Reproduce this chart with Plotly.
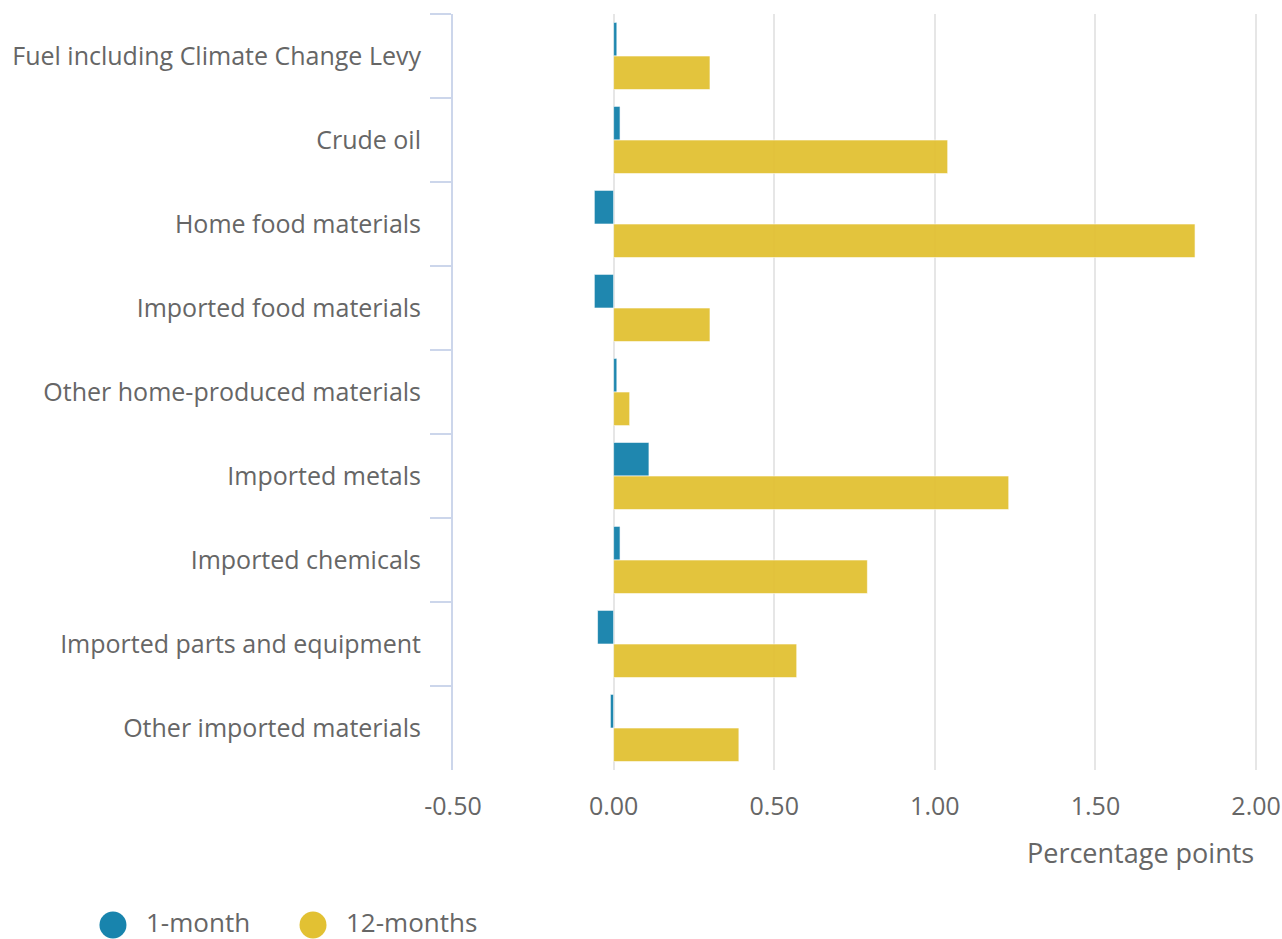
import plotly.graph_objects as go

categories = [
    "Fuel including Climate Change Levy",
    "Crude oil",
    "Home food materials",
    "Imported food materials",
    "Other home-produced materials",
    "Imported metals",
    "Imported chemicals",
    "Imported parts and equipment",
    "Other imported materials",
]
series_names = ["1-month", "12-months"]
one_month = [0.01, 0.02, -0.06, -0.06, 0.01, 0.11, 0.02, -0.05, -0.01]
twelve_months = [0.30, 1.04, 1.81, 0.30, 0.05, 1.23, 0.79, 0.57, 0.39]
x_ticks = [-0.5, 0, 0.5, 1.0, 1.5, 2.0]
x_tick_labels = ["-0.50", "0.00", "0.50", "1.00", "1.50", "2.00"]

BLUE = "#1884ad"
YELLOW = "#e2c133"
TXT = "#666666"
FONT = "Open Sans"
colors = [BLUE, YELLOW]

fig = go.Figure()
for name, vals, col, op in zip(series_names, [one_month, twelve_months], colors, [0.97, 0.95]):
    fig.add_trace(go.Bar(y=categories, x=vals, orientation="h", name=name,
                         marker=dict(color=col, line=dict(color="rgba(255,255,255,0.6)", width=1)),
                         opacity=op, showlegend=False))

# manual legend with large circle symbols (below the plot, left)
legend_x_circle = [-0.4224, -0.1739]
legend_x_text = [-0.3826, -0.1342]
legend_y = -0.2050
shapes = []
annotations = []
for name, col, xc, xt in zip(series_names, colors, legend_x_circle, legend_x_text):
    shapes.append(dict(type="circle", xref="paper", yref="paper",
                       xsizemode="pixel", ysizemode="pixel",
                       xanchor=xc, yanchor=legend_y,
                       x0=-13.5, x1=13.5, y0=-13.5, y1=13.5,
                       fillcolor=col, line=dict(width=0)))
    annotations.append(dict(text=name, xref="paper", yref="paper", x=xt, y=legend_y,
                            yshift=3, borderpad=0,
                            xanchor="left", yanchor="middle", showarrow=False,
                            font=dict(size=26, color=TXT, family=FONT)))
annotations.append(dict(text="Percentage points", xref="paper", yref="paper",
                        x=1.0, y=0, xshift=-2, yshift=-82, xanchor="right", yanchor="middle",
                        showarrow=False, font=dict(size=27, color=TXT, family=FONT)))

fig.update_layout(
    width=1282, height=939,
    margin=dict(l=453, r=24, t=14, b=169),
    paper_bgcolor="white", plot_bgcolor="white",
    font=dict(family=FONT, color=TXT, size=25),
    barmode="group", bargap=0.2, bargroupgap=0.0,
    showlegend=False,
    xaxis=dict(range=[-0.5, 2.006], tickvals=x_ticks, ticktext=x_tick_labels,
               showgrid=True, gridcolor="#e6e6e6", gridwidth=2,
               zeroline=False, showline=False, ticks="", automargin=False,
               tickfont=dict(size=25, color=TXT), ticklabelstandoff=19),
    yaxis=dict(autorange="reversed", showgrid=False, zeroline=False,
               showline=True, linecolor="#ccd6eb", linewidth=2, automargin=False,
               ticks="outside", tickson="boundaries", ticklen=21, tickwidth=2,
               tickcolor="#ccd6eb", tickfont=dict(size=25, color=TXT),
               ticklabelstandoff=25),
    shapes=shapes,
    annotations=annotations,
)

fig.write_html("out.html", config={"displayModeBar": False},
               post_script="document.body.style.margin='0';document.body.style.overflow='hidden';")
